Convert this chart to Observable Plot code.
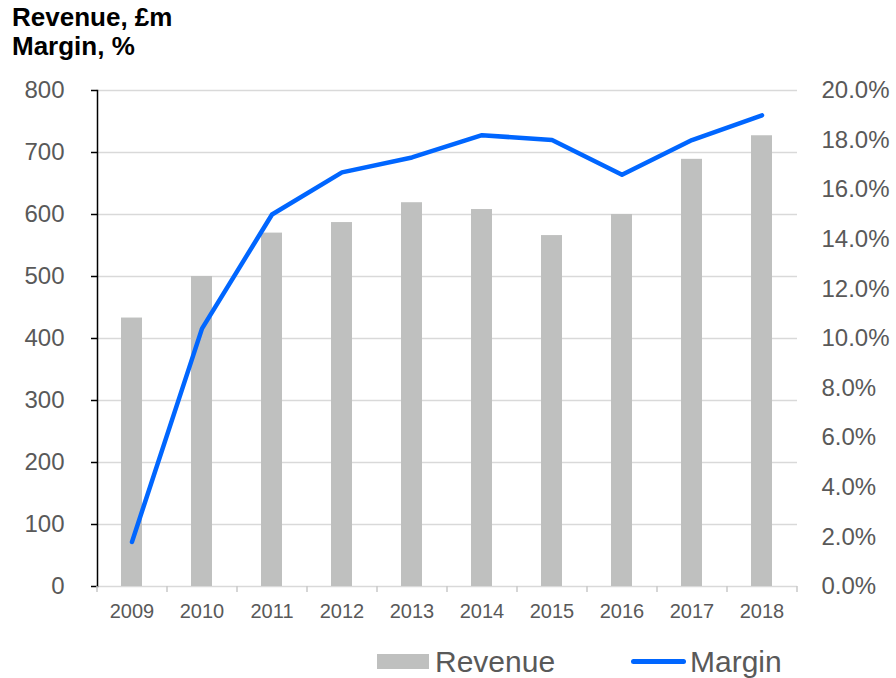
<!DOCTYPE html>
<html>
<head>
<meta charset="utf-8">
<script src="https://cdn.jsdelivr.net/npm/d3@7"></script>
<script src="https://cdn.jsdelivr.net/npm/@observablehq/plot@0.6"></script>
<style>
  html, body { margin: 0; padding: 0; background: #fff; }
  #wrap { position: relative; width: 896px; height: 678px; overflow: hidden; font-family: "Liberation Sans", Arial, sans-serif; }
  #title { position: absolute; left: 12px; top: 3px; font-weight: bold; font-size: 26px; line-height: 29px; color: #000; z-index: 2; }
  #chart { position: absolute; left: 0; top: 0; }
  .leg { position: absolute; }
  .legtext { position: absolute; top: 645px; font-size: 30px; line-height: 34px; color: #595959; }
</style>
</head>
<body>
<div id="wrap">
  <div id="title">Revenue, £m<br>Margin, %</div>
  <div id="chart"></div>
  <div class="leg" style="left:377px; top:654px; width:52px; height:15px; background:#bfc0bf;"></div>
  <div class="legtext" style="left:435px;">Revenue</div>
  <div class="leg" style="left:631px; top:659px; width:55px; height:5px; border-radius:3px; background:#0066ff;"></div>
  <div class="legtext" style="left:690px;">Margin</div>
</div>
<script>
const years = ["2009","2010","2011","2012","2013","2014","2015","2016","2017","2018"];
const revenue = [433, 500, 570, 587, 619, 608, 566, 600, 689, 727];
const margin = [1.8, 10.4, 15.0, 16.7, 17.3, 18.2, 18.0, 16.6, 18.0, 19.0];
const revenueTicks = [0, 100, 200, 300, 400, 500, 600, 700, 800];
const marginTicks = [0, 2, 4, 6, 8, 10, 12, 14, 16, 18, 20];

const K = revenueTicks[revenueTicks.length - 1] / marginTicks[marginTicks.length - 1];
const data = years.map((y, i) => ({year: y, revenue: revenue[i], margin: margin[i]}));

const grey = "#595959";
const chart = Plot.plot({
  width: 896,
  height: 640,
  marginTop: 90,
  marginBottom: 54,
  marginLeft: 97,
  marginRight: 99,
  style: {fontFamily: "'Liberation Sans', Arial, sans-serif", background: "transparent"},
  x: {domain: years, paddingInner: 0.693, paddingOuter: 0.3465},
  y: {domain: [0, 800]},
  marks: [
    Plot.gridY({ticks: revenueTicks, stroke: "#d9d9d9", strokeOpacity: 1, strokeWidth: 1.5}),
    Plot.barY(data, {x: "year", y: "revenue", fill: "#bfc0bf"}),
    Plot.line(data, {x: "year", y: d => d.margin * K, stroke: "#0066ff", strokeWidth: 4.5, strokeLinejoin: "round", strokeLinecap: "round"}),
    Plot.frame({anchor: "left", stroke: "#000", strokeWidth: 1.5}),
    Plot.axisY({ticks: revenueTicks, tickSize: 6, tickPadding: 27, stroke: "#000", strokeWidth: 1.5, fill: grey, fontSize: 24, label: null}),
    Plot.axisY({anchor: "right", ticks: marginTicks.map(m => m * K), tickFormat: d => (d / K).toFixed(1) + "%", tickSize: 0, tickPadding: 24, fontSize: 24, fill: grey, stroke: "none", label: null}),
    Plot.axisX({tickSize: 6, dx: -35, stroke: "#c8c8c8", strokeWidth: 1.5, tickFormat: () => "", label: null}),
    Plot.axisX({ticks: [years[years.length - 1]], tickSize: 6, dx: 35, stroke: "#c8c8c8", strokeWidth: 1.5, tickFormat: () => "", label: null}),
    Plot.axisX({tickSize: 0, tickPadding: 17, fontSize: 20, fill: grey, stroke: "none", label: null})
  ]
});
document.getElementById("chart").appendChild(chart);
</script>
</body>
</html>
